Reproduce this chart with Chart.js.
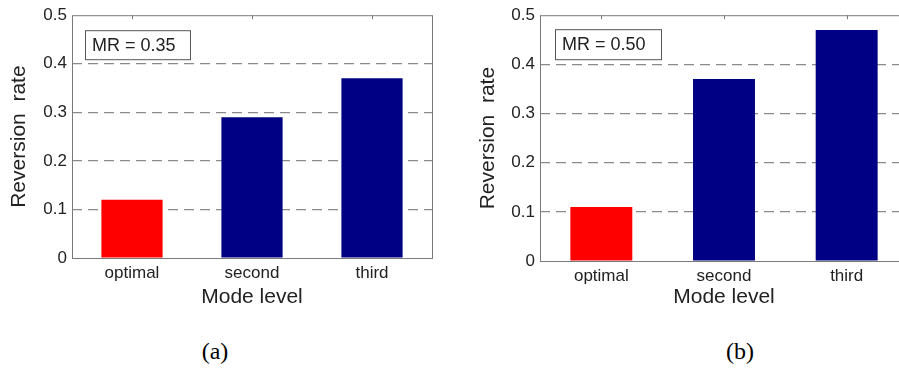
<!DOCTYPE html>
<html>
<head>
<meta charset="utf-8">
<script src="https://cdn.jsdelivr.net/npm/chart.js"></script>
<style>
html,body{margin:0;padding:0;background:#fff;overflow:hidden;width:899px;height:372px;}
.panel{position:absolute;top:0;width:450px;height:320px;}
.cap{position:absolute;top:338px;font-family:"Liberation Serif","Times New Roman",serif;font-size:24px;color:#000;width:60px;text-align:center;}
</style>
</head>
<body>
<div class="panel" style="left:0"><canvas id="chartA" width="450" height="320"></canvas></div>
<div class="panel" style="left:469px"><canvas id="chartB" width="450" height="320"></canvas></div>
<div class="cap" style="left:185px">(a)</div>
<div class="cap" style="left:710px">(b)</div>
<script>
// data
const categories = ["optimal","second","third"];
const rateA = [0.12, 0.29, 0.37];
const rateB = [0.11, 0.37, 0.47];
const barColors = ["#ff0000","#000084","#000084"];
const yTicks = [0, 0.1, 0.2, 0.3, 0.4, 0.5];
const mrA = "MR = 0.35";
const mrB = "MR = 0.50";
const fontFam = "Liberation Sans, Arial, sans-serif";

// frame, top ticks and MR label box
const framePlugin = {
id:"frame",
afterDatasetsDraw(chart, args, opts){
const {ctx, chartArea:a, scales} = chart;
ctx.save();
ctx.strokeStyle="#7a7a7a";
ctx.lineWidth=1;
ctx.strokeRect(a.left+0.5, a.top+0.5, a.right-a.left, a.bottom-a.top);
// small inward ticks at the category positions
ctx.beginPath();
categories.forEach((c,i)=>{
const x=Math.round(scales.x.getPixelForValue(i))+0.5;
ctx.moveTo(x,a.top); ctx.lineTo(x,a.top+4);
});
ctx.stroke();
// MR box
const bx=a.left+opts.dx, by=a.top+opts.dy;
ctx.fillStyle="#fff";
ctx.fillRect(bx,by,opts.w,opts.h);
ctx.strokeStyle="#555";
ctx.strokeRect(bx+0.5,by+0.5,opts.w,opts.h);
ctx.fillStyle="#222";
ctx.font="18px "+fontFam;
ctx.textBaseline="middle";
ctx.fillText(opts.text,bx+7,by+opts.h/2+1);
ctx.restore();
}
};

function makeChart(id, values, pad, axisW, axisH, barPct, mr){
return new Chart(document.getElementById(id),{
type:"bar",
data:{
labels:categories,
datasets:[{
data:values,
backgroundColor:barColors,
borderWidth:0,
barPercentage:barPct,
categoryPercentage:1
}]
},
options:{
responsive:false,
animation:false,
layout:{padding:pad},
plugins:{
legend:{display:false},
tooltip:{enabled:false},
frame:mr
},
scales:{
x:{
grid:{display:false,drawTicks:false,tickLength:0},
border:{display:false},
ticks:{color:"#222",font:{size:17,family:fontFam},padding:5},
title:{display:true,text:"Mode level",color:"#222",font:{size:21,family:fontFam},padding:{top:0,bottom:10}},
afterFit:s=>{s.height=axisH;}
},
y:{
min:0,max:0.5,
afterBuildTicks:s=>{s.ticks=yTicks.map(v=>({value:v}));},
grid:{
drawTicks:false,
color:c=>(c.tick && c.tick.value>0 && c.tick.value<0.5)?"#8a8a8a":"rgba(0,0,0,0)",
lineWidth:1.2
},
border:{display:false,dash:[10,6]},
ticks:{color:"#222",font:{size:17,family:fontFam},padding:5,callback:v=>String(v)},
title:{display:true,text:"Reversion  rate",color:"#222",font:{size:21,family:fontFam},padding:{top:7,bottom:0}},
afterFit:s=>{s.width=axisW;}
}
}
},
plugins:[framePlugin]
});
}

makeChart("chartA", rateA, {top:11,right:18,left:0,bottom:0}, 72, 62, 0.51, {text:mrA,dx:13,dy:15,w:105,h:29});
makeChart("chartB", rateB, {top:14,right:11,left:0,bottom:0}, 71, 59, 0.505, {text:mrB,dx:15,dy:14,w:106,h:30});
</script>
</body>
</html>
